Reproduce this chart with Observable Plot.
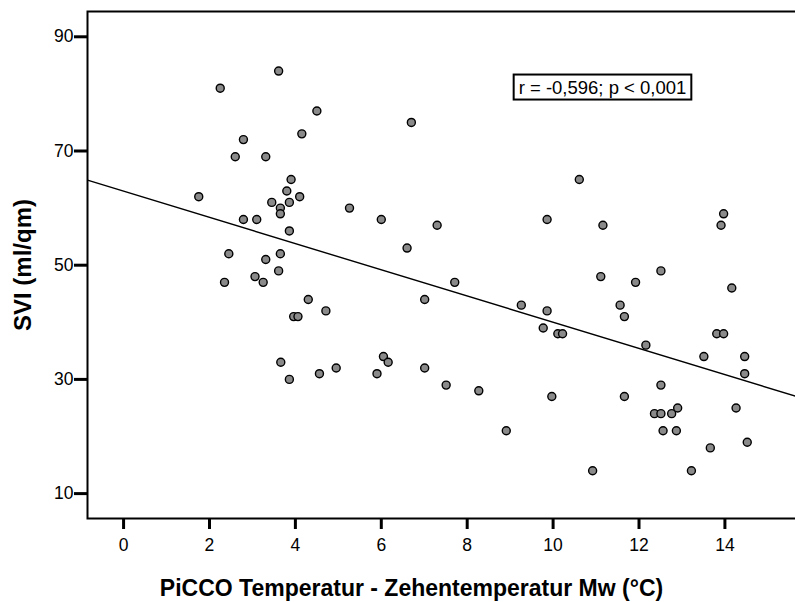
<!DOCTYPE html>
<html>
<head>
<meta charset="utf-8">
<script src="https://cdn.jsdelivr.net/npm/d3@7"></script>
<script src="https://cdn.jsdelivr.net/npm/@observablehq/plot@0.6"></script>
<style>
  html, body { margin: 0; padding: 0; background: #fff; }
  svg { font-family: "Liberation Sans", Arial, sans-serif; }
</style>
</head>
<body>
<div id="chart"></div>
<script>
// Data
const xVals = [3.61, 2.25, 4.50, 6.70, 2.79, 4.15, 2.60, 3.31, 3.90, 3.80, 1.75, 4.10, 3.45, 3.86, 3.65, 3.65, 5.26, 6.00, 7.30, 2.79,
  3.10, 3.86, 6.60, 2.45, 3.65, 3.31, 2.35, 3.06, 3.25, 3.61, 4.30, 4.71, 3.96, 4.06, 7.01, 3.66, 3.86, 4.56, 4.95, 5.90,
  6.05, 6.16, 7.01, 10.61, 9.86, 11.16, 13.97, 13.91, 12.51, 7.71, 11.11, 11.92, 14.16, 9.26, 9.86, 11.56, 11.66, 9.77, 10.11, 10.22,
  12.16, 13.81, 13.97, 13.51, 14.46, 14.46, 7.51, 8.27, 9.97, 11.66, 12.51, 12.36, 12.51, 12.76, 12.90, 14.26, 12.56, 12.87, 8.91, 14.52,
  13.66, 10.92, 13.22];
const yVals = [84, 81, 77, 75, 72, 73, 69, 69, 65, 63, 62, 62, 61, 61, 60, 59, 60, 58, 57, 58,
  58, 56, 53, 52, 52, 51, 47, 48, 47, 49, 44, 42, 41, 41, 44, 33, 30, 31, 32, 31,
  34, 33, 32, 65, 58, 57, 59, 57, 49, 47, 48, 47, 46, 43, 42, 43, 41, 39, 38, 38,
  36, 38, 38, 34, 34, 31, 29, 28, 27, 27, 29, 24, 24, 24, 25, 25, 21, 21, 21, 19,
  18, 14, 14];
const xTicks = [0, 2, 4, 6, 8, 10, 12, 14];
const yTicks = [10, 30, 50, 70, 90];
const xDomain = [-0.84, 15.69];
const yDomain = [5.64, 94.43];
const xLabel = "PiCCO Temperatur - Zehentemperatur Mw (°C)";
const yLabel = "SVI (ml/qm)";
const statText = "r = -0,596; p < 0,001";
const statPos = {x: 11.15, y: 81.1};

const data = xVals.map((x, i) => ({x, y: yVals[i]}));

// least-squares fit from the data, drawn across the whole frame
const mx = d3.mean(xVals), my = d3.mean(yVals);
const slope = d3.sum(data, d => (d.x - mx) * (d.y - my)) / d3.sum(data, d => (d.x - mx) ** 2);
const intercept = my - slope * mx;
const fitLine = xDomain.map(x => ({x, y: intercept + slope * x}));

const chart = Plot.plot({
  width: 795,
  height: 602,
  marginLeft: 87,
  marginRight: -2,
  marginTop: 11,
  marginBottom: 84,
  style: {fontFamily: '"Liberation Sans", Arial, sans-serif', background: "#fff"},
  x: {domain: xDomain},
  y: {domain: yDomain},
  marks: [
    Plot.line(fitLine, {x: "x", y: "y", stroke: "#000", strokeWidth: 1.4, clip: true}),
    Plot.dot(data, {x: "x", y: "y", r: 4, fill: "#8a8a8a", stroke: "#000", strokeWidth: 1.4}),
    Plot.frame({stroke: "#000", strokeWidth: 2}),
    // tick marks
    Plot.axisX({ticks: xTicks, tickSize: 11, strokeWidth: 3, text: null, label: null}),
    Plot.axisY({ticks: yTicks, tickSize: 13, strokeWidth: 3, text: null, label: null}),
    // tick labels
    Plot.axisX({ticks: xTicks, tickSize: 0, tickPadding: 20, fontSize: 17.5, label: null, tickFormat: d => String(d)}),
    Plot.axisY({ticks: yTicks, tickSize: 0, tickPadding: 14, fontSize: 17.5, label: null, tickFormat: d => String(d)}),
    Plot.text([xLabel], {text: d => d, frameAnchor: "bottom", textAnchor: "middle", dx: -31, dy: 70, fontSize: 23, fontWeight: "bold", fill: "#000", lineAnchor: "middle"}),
    Plot.text([yLabel], {text: d => d, frameAnchor: "left", textAnchor: "middle", dx: -64, rotate: -90, fontSize: 24, fontWeight: "bold", fill: "#000", lineAnchor: "middle"}),
    Plot.text([statText], {text: d => d, x: () => statPos.x, y: () => statPos.y, fontSize: 18.5, fill: "#000", lineAnchor: "middle", className: "stat"})
  ]
});

document.getElementById("chart").append(chart);

// box around the statistics label
const st = chart.querySelector(".stat text");
if (st) {
  const bb = st.getBBox();
  const rect = document.createElementNS("http://www.w3.org/2000/svg", "rect");
  const padX = 5, padY = 2;
  rect.setAttribute("x", bb.x - padX);
  rect.setAttribute("y", bb.y - padY);
  rect.setAttribute("width", bb.width + 2 * padX);
  rect.setAttribute("height", bb.height + 2 * padY);
  rect.setAttribute("fill", "#fff");
  rect.setAttribute("stroke", "#000");
  rect.setAttribute("stroke-width", 2);
  const ctm = st.getAttribute("transform");
  if (ctm) rect.setAttribute("transform", ctm);
  st.parentNode.insertBefore(rect, st);
}
</script>
</body>
</html>
